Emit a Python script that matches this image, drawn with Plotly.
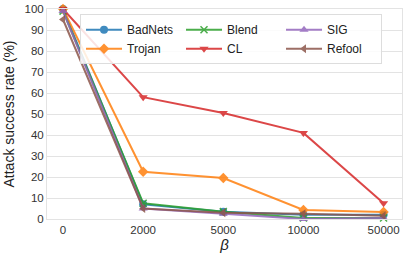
import plotly.graph_objects as go

betas = ["0", "2000", "5000", "10000", "50000"]
badnets = [100, 7.0, 3.5, 2.0, 2.0]
trojan = [100, 22.5, 19.5, 4.3, 3.3]
blend = [99, 7.5, 3.5, 0.5, 0.5]
cl = [100, 58, 50.5, 41, 7.5]
sig = [99, 5.0, 2.5, 0.0, 0.5]
refool = [95, 5.0, 3.0, 2.5, 1.5]

series = [
    ("BadNets", badnets, "#1f77b4", "circle"),
    ("Blend", blend, "#2ca02c", "x-thin-open"),
    ("SIG", sig, "#9467bd", "triangle-up"),
    ("Trojan", trojan, "#ff7f0e", "diamond"),
    ("CL", cl, "#d62728", "triangle-down"),
    ("Refool", refool, "#8c564b", "triangle-left"),
]
draw_order = ["BadNets", "Trojan", "Blend", "CL", "SIG", "Refool"]

fig = go.Figure()
lookup = {s[0]: s for s in series}
for name in draw_order:
    n, vals, col, sym = lookup[name]
    fig.add_trace(go.Scatter(
        x=list(range(len(betas))), y=vals, name=n, mode="lines+markers",
        line=dict(color=col, width=2), opacity=0.85,
        marker=dict(symbol=sym, size=8 if sym != "x-thin-open" else 7,
                    color=col, line=dict(color=col, width=1.5 if sym == "x-thin-open" else 0)),
        cliponaxis=False,
        legendrank=[s[0] for s in series].index(n),
    ))

fig.update_layout(
    width=407, height=258,
    margin=dict(l=47, r=5, t=9, b=39),
    paper_bgcolor="white", plot_bgcolor="white",
    font=dict(family="Liberation Sans, Arial, sans-serif", size=12, color="#333"),
    showlegend=True,
    legend=dict(orientation="h", x=0.093, y=0.975, xanchor="left", yanchor="top",
                entrywidth=49, bgcolor="rgba(255,255,255,0.85)",
                bordercolor="#dddddd", borderwidth=1,
                font=dict(size=12, color="#222"), tracegroupgap=0, itemwidth=36),
    xaxis=dict(tickmode="array", tickvals=list(range(len(betas))), ticktext=betas,
               range=[-0.2, 4.23], showgrid=False, zeroline=False, automargin=False,
               showline=True, linecolor="#e3e3e3", mirror=True, ticks="",
               title=dict(text="<i>β</i>", font=dict(size=15, color="#222"), standoff=4),
               tickfont=dict(size=11.5, color="#333")),
    yaxis=dict(range=[0, 100], dtick=10, showgrid=True, gridcolor="#e3e3e3", gridwidth=1,
               zeroline=False, showline=True, linecolor="#e3e3e3", mirror=True, ticks="",
               automargin=False,
               title=dict(text="Attack success rate (%)", font=dict(size=14, color="#222"), standoff=6),
               tickfont=dict(size=11.5, color="#333")),
)

fig.write_html("out.html", config={"displayModeBar": False},
               post_script="document.body.style.margin='0';")
